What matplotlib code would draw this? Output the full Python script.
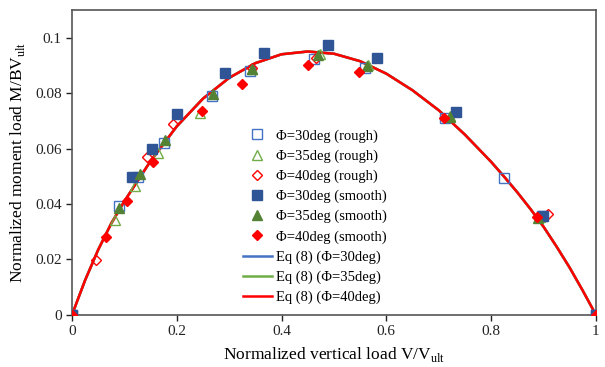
import matplotlib
matplotlib.use("Agg")
import matplotlib.pyplot as plt
from matplotlib.lines import Line2D

plt.rcParams['font.family'] = ['Liberation Serif', 'DejaVu Serif']
plt.rcParams['mathtext.fontset'] = 'custom'
plt.rcParams['mathtext.rm'] = 'Liberation Serif'

# ---- data ----
v_r30 = [0, 0.090, 0.126, 0.176, 0.267, 0.340, 0.462, 0.559, 0.712, 0.824, 0.898, 1.0]
m_r30 = [0, 0.0392, 0.0497, 0.0619, 0.0791, 0.0881, 0.0924, 0.0892, 0.0709, 0.0493, 0.0356, 0.0]

v_r35 = [0, 0.082, 0.120, 0.164, 0.245, 0.343, 0.473, 0.565, 0.721, 0.893, 1.0]
m_r35 = [0, 0.0342, 0.0466, 0.0583, 0.0727, 0.0886, 0.0942, 0.0900, 0.0716, 0.0352, 0.0]

v_r40 = [0, 0.046, 0.143, 0.193, 0.343, 0.466, 0.908, 1.0]
m_r40 = [0, 0.0198, 0.0568, 0.0690, 0.0892, 0.0927, 0.0363, 0.0]

v_s30 = [0, 0.115, 0.153, 0.200, 0.292, 0.366, 0.489, 0.582, 0.733, 0.899, 1.0]
m_s30 = [0, 0.0496, 0.0600, 0.0723, 0.0871, 0.0946, 0.0975, 0.0926, 0.0730, 0.0357, 0.0]

v_s35 = [0, 0.090, 0.129, 0.178, 0.269, 0.343, 0.469, 0.563, 0.721, 0.890, 1.0]
m_s35 = [0, 0.0385, 0.0508, 0.0630, 0.0798, 0.0888, 0.0939, 0.0896, 0.0712, 0.0349, 0.0]

v_s40 = [0, 0.065, 0.105, 0.155, 0.248, 0.324, 0.451, 0.548, 0.710, 0.887, 1.0]
m_s40 = [0, 0.0280, 0.0410, 0.0550, 0.0737, 0.0834, 0.0900, 0.0875, 0.0709, 0.0353, 0.0]

# Eq (8) curve
v_eq = [0, 0.025, 0.05, 0.075, 0.10, 0.15, 0.20, 0.25, 0.30, 0.35, 0.40, 0.45, 0.50,
        0.55, 0.60, 0.65, 0.70, 0.75, 0.80, 0.825, 0.85, 0.875, 0.90, 0.925, 0.95, 0.975, 1.0]
m_eq = [0, 0.0125, 0.0235, 0.0330, 0.0410, 0.0555, 0.0680, 0.0780, 0.0855, 0.0908, 0.0940, 0.0950, 0.0942,
        0.0915, 0.0870, 0.0810, 0.0738, 0.0650, 0.0552, 0.0498, 0.0442, 0.0382, 0.0318, 0.0246, 0.0170, 0.0087, 0.0]

x_ticks = [0, 0.2, 0.4, 0.6, 0.8, 1.0]
x_ticklabels = ['0', '0.2', '0.4', '0.6', '0.8', '1']
y_ticks = [0, 0.02, 0.04, 0.06, 0.08, 0.1]
y_ticklabels = ['0', '0.02', '0.04', '0.06', '0.08', '0.1']

# ---- style ----
c_blue_d = '#2F5597'
c_blue_l = '#4472C4'
c_green_d = '#548235'
c_green_l = '#70AD47'
c_red = '#FF0000'

fig = plt.figure(figsize=(6.05, 3.67), dpi=100)
ax = fig.add_axes([0.119, 0.142, 0.866, 0.831])

ax.plot(v_eq, m_eq, color=c_blue_l, lw=1.8, zorder=1)
ax.plot(v_eq, m_eq, color=c_green_l, lw=1.8, zorder=1)
ax.plot(v_eq, m_eq, color=c_red, lw=1.8, zorder=2)

ax.plot(v_r30, m_r30, ls='none', marker='s', ms=7, mfc='none', mec=c_blue_l, mew=1.0, zorder=3)
ax.plot(v_r35, m_r35, ls='none', marker='^', ms=7, mfc='none', mec=c_green_l, mew=1.0, zorder=3)
ax.plot(v_r40, m_r40, ls='none', marker='D', ms=5.5, mfc='none', mec=c_red, mew=1.0, zorder=3)
ax.plot(v_s30, m_s30, ls='none', marker='s', ms=7.5, mfc=c_blue_d, mec=c_blue_d, zorder=4)
ax.plot(v_s35, m_s35, ls='none', marker='^', ms=7, mfc=c_green_d, mec=c_green_d, zorder=4)
ax.plot(v_s40, m_s40, ls='none', marker='D', ms=5.5, mfc=c_red, mec=c_red, zorder=5)

ax.set_xlim(0, 1)
ax.set_ylim(0, 0.11)
ax.set_xticks(x_ticks)
ax.set_xticklabels(x_ticklabels)
ax.set_yticks(y_ticks)
ax.set_yticklabels(y_ticklabels)
ax.tick_params(direction='out', length=4, width=1, labelsize=11, colors='#222222')
for s in ax.spines.values():
    s.set_color('#555555')
    s.set_linewidth(1.2)

ax.set_xlabel('Normalized vertical load V/V$_{\\mathrm{ult}}$', fontsize=12.5, labelpad=5)
ax.set_ylabel('Normalized moment load M/BV$_{\\mathrm{ult}}$', fontsize=12.5, labelpad=6)

handles = [
    Line2D([], [], ls='none', marker='s', ms=7, mfc='none', mec=c_blue_l, mew=1.0),
    Line2D([], [], ls='none', marker='^', ms=7, mfc='none', mec=c_green_l, mew=1.0),
    Line2D([], [], ls='none', marker='D', ms=5.5, mfc='none', mec=c_red, mew=1.0),
    Line2D([], [], ls='none', marker='s', ms=7.5, mfc=c_blue_d, mec=c_blue_d),
    Line2D([], [], ls='none', marker='^', ms=7, mfc=c_green_d, mec=c_green_d),
    Line2D([], [], ls='none', marker='D', ms=5.5, mfc=c_red, mec=c_red),
    Line2D([], [], color=c_blue_l, lw=1.8),
    Line2D([], [], color=c_green_l, lw=1.8),
    Line2D([], [], color=c_red, lw=1.8),
]
labels = ['Φ=30deg (rough)', 'Φ=35deg (rough)', 'Φ=40deg (rough)',
          'Φ=30deg (smooth)', 'Φ=35deg (smooth)', 'Φ=40deg (smooth)',
          'Eq (8) (Φ=30deg)', 'Eq (8) (Φ=35deg)', 'Eq (8) (Φ=40deg)']
ax.legend(handles, labels, loc='upper left', bbox_to_anchor=(0.315, 0.628),
          frameon=False, fontsize=10.5, handlelength=2.0, handletextpad=0.3,
          labelspacing=0.46, borderaxespad=0)

fig.savefig('out.png', dpi=100)
